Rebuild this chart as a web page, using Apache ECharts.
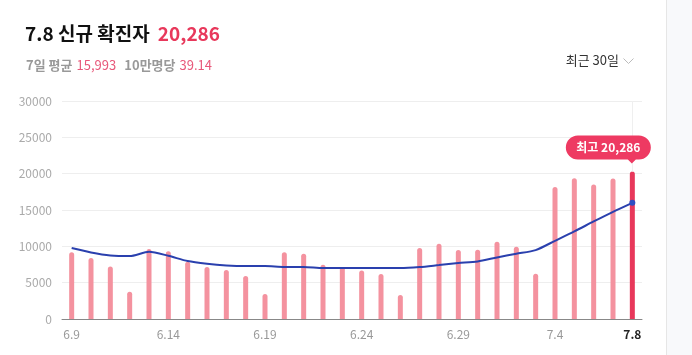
<!DOCTYPE html>
<html>
<head>
<meta charset="utf-8">
<script src="https://cdn.jsdelivr.net/npm/echarts@6/dist/echarts.min.js"></script>
<style>
  html, body { margin: 0; padding: 0; background: #fff; }
  #wrap { display: flex; width: 692px; height: 355px; }
  #chart { width: 666px; height: 355px; }
  #side { width: 25px; height: 355px; background: #f8f9fb; border-left: 1px solid #e6e6e6; }
</style>
</head>
<body>
<div id="wrap">
  <div id="chart"></div>
  <div id="side"></div>
</div>
<script>
// dates (category axis)
let days = ['6.9', '6.10', '6.11', '6.12', '6.13', '6.14', '6.15', '6.16', '6.17', '6.18',
  '6.19', '6.20', '6.21', '6.22', '6.23', '6.24', '6.25', '6.26', '6.27', '6.28',
  '6.29', '6.30', '7.1', '7.2', '7.3', '7.4', '7.5', '7.6', '7.7', '7.8'];
// daily new cases
let cases = [9200, 8380, 7230, 3750, 9620, 9340, 7880, 7140, 6730, 5910,
  3430, 9200, 8980, 7460, 7140, 6690, 6180, 3300, 9760, 10350,
  9480, 9530, 10630, 9940, 6230, 18150, 19370, 18510, 19320, 20286];
// 7-day average
let avg7 = [9760, 9160, 8750, 8660, 9250, 8700, 7970, 7600, 7370, 7280,
  7280, 7150, 7150, 7010, 7010, 7010, 7010, 7010, 7150, 7420,
  7690, 7920, 8470, 8980, 9480, 10760, 12050, 13420, 14750, 15993];
let yTicks = [0, 30000, 5000];

let pink = '#f4929f';
let red = '#e8385b';
let last = days.length - 1;

let chart = echarts.init(document.getElementById('chart'));
let ff = '"Noto Sans CJK KR", "Noto Sans", sans-serif';

// speech bubble, pointer sits toward the right side
let bubble = 'path://M12,0 H73 A12,12 0 0 1 85,12 A12,12 0 0 1 73,24 H70 L66,28 L62,24 H12 A12,12 0 0 1 0,12 A12,12 0 0 1 12,0 Z';

let option = {
  animation: false,
  textStyle: { fontFamily: ff },
  title: [
    {
      left: 20, top: 19,
      text: '{a|7.8 신규 확진자}  {b|20,286}',
      textStyle: {
        rich: {
          a: { fontSize: 19, fontWeight: 'bold', color: '#111', fontFamily: ff },
          b: { fontSize: 19, fontWeight: 'bold', color: '#e8385b', fontFamily: ff }
        }
      }
    },
    {
      left: 21, top: 51,
      text: '{g|7일 평균} {p|15,993}  {g|10만명당} {p|39.14}',
      textStyle: {
        fontWeight: 'normal',
        rich: {
          g: { fontSize: 13, fontWeight: 'bold', color: '#999', fontFamily: ff },
          p: { fontSize: 13, fontWeight: 'normal', color: '#e8587a', fontFamily: ff }
        }
      }
    },
    {
      right: 42, top: 49,
      text: '최근 30일',
      textStyle: { fontSize: 13, fontWeight: 'normal', color: '#333', fontFamily: ff }
    }
  ],
  graphic: [{
    type: 'polyline',
    right: 30, top: 56,
    shape: { points: [[0, 0], [5, 5], [10, 0]] },
    style: { stroke: '#bbb', lineWidth: 1, fill: null }
  }],
  grid: { left: 62, right: 24, top: 101, bottom: 36 },
  xAxis: {
    type: 'category',
    data: days,
    boundaryGap: true,
    axisLine: { lineStyle: { color: '#888' } },
    axisTick: { show: false },
    axisLabel: {
      margin: 9,
      fontSize: 12,
      color: '#999',
      interval: function (i) { return i % 5 === 0 || i === last; },
      formatter: function (v, i) { return i === last ? '{b|' + v + '}' : v; },
      rich: { b: { fontWeight: 'bold', color: '#222', fontSize: 12 } }
    }
  },
  yAxis: {
    type: 'value',
    min: yTicks[0], max: yTicks[1], interval: yTicks[2],
    axisLine: { show: false },
    axisTick: { show: false },
    axisLabel: { color: '#aaa', fontSize: 12, margin: 10, formatter: function (v) { return String(v); } },
    splitLine: { lineStyle: { color: '#eeeeee' } }
  },
  series: [
    {
      type: 'bar',
      barWidth: 5,
      data: cases.map(function (v, i) {
        return { value: v, itemStyle: { color: i === last ? red : pink } };
      }),
      itemStyle: { borderRadius: [3, 3, 0, 0] },
      markLine: {
        silent: true,
        symbol: 'none',
        label: { show: false },
        lineStyle: { color: '#efefef', type: 'solid', width: 1 },
        data: [[{ coord: [last, yTicks[1]] }, { coord: [last, cases[last]] }]]
      },
      markPoint: {
        symbol: bubble,
        symbolSize: [85, 28],
        symbolOffset: [-24, -22],
        itemStyle: { color: '#ee3a62' },
        label: {
          show: true,
          offset: [0, -2],
          color: '#fff',
          fontWeight: 'bold',
          fontSize: 12,
          formatter: function (p) { return '최고 ' + p.value.toLocaleString('en-US'); }
        },
        data: [{ coord: [last, cases[last]], value: cases[last] }]
      },
      z: 2
    },
    {
      type: 'line',
      data: avg7,
      smooth: 0.25,
      showAllSymbol: true,
      symbol: 'circle',
      symbolSize: function (v, p) { return p.dataIndex === last ? 6 : 0; },
      lineStyle: { color: '#2a40ae', width: 2 },
      itemStyle: { color: '#2f4fc4' },
      z: 3
    }
  ]
};

chart.setOption(option);
</script>
</body>
</html>
